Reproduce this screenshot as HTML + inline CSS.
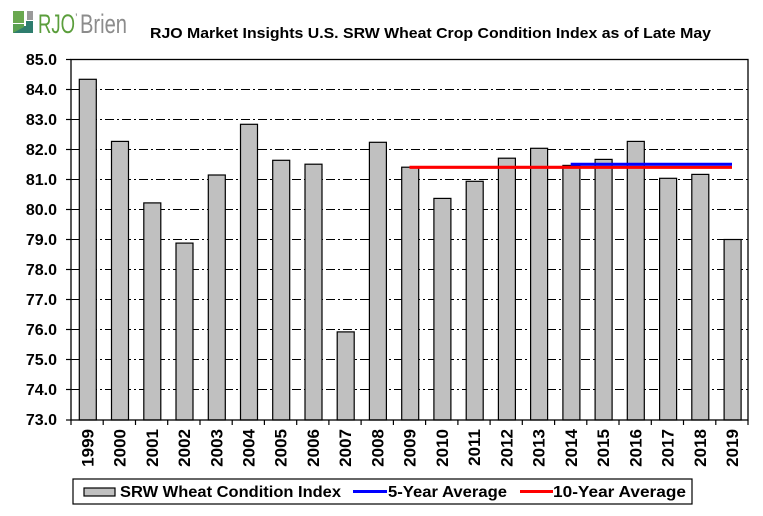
<!DOCTYPE html>
<html>
<head>
<meta charset="utf-8">
<style>
html,body{margin:0;padding:0;background:#fff;}
svg{display:block;}
text{font-family:"Liberation Sans",Arial,sans-serif;}
</style>
</head>
<body>
<svg width="763" height="516" viewBox="0 0 763 516" xmlns="http://www.w3.org/2000/svg">
<rect x="0" y="0" width="763" height="516" fill="#fff"/>

<!-- Logo -->
<g>
  <rect x="13" y="11" width="11" height="12" fill="#6aa84f"/>
  <rect x="27" y="11" width="6" height="9" fill="#9a9a9a"/>
  <polygon points="13,33 33,33 33,21 26,21 26,26 24,26 24,24 13,24" fill="#2e7d6e"/>
  <polygon points="13,33 13,24 24,24 24,27" fill="#5aa050"/>
  <text x="38" y="33" font-size="27" fill="#5b9e3c" textLength="37" lengthAdjust="spacingAndGlyphs">RJO</text>
  <text x="75" y="22" font-size="12" fill="#8c8c8c">’</text>
  <text x="80" y="33" font-size="27" fill="#8c8c8c" textLength="47" lengthAdjust="spacingAndGlyphs">Brien</text>
</g>

<!-- Title -->
<text x="150" y="38" font-size="15" font-weight="bold" fill="#000" textLength="561" lengthAdjust="spacingAndGlyphs">RJO Market Insights U.S. SRW Wheat Crop Condition Index as of Late May</text>

<!-- Gridlines -->
<g stroke="#000" stroke-width="1" stroke-dasharray="9 3 2 3" shape-rendering="crispEdges">
  <line x1="71" y1="89.5" x2="748" y2="89.5"/>
  <line x1="71" y1="119.5" x2="748" y2="119.5"/>
  <line x1="71" y1="149.5" x2="748" y2="149.5"/>
  <line x1="71" y1="179.5" x2="748" y2="179.5"/>
  <line x1="71" y1="209.5" x2="748" y2="209.5"/>
  <line x1="71" y1="239.5" x2="748" y2="239.5"/>
  <line x1="71" y1="269.5" x2="748" y2="269.5"/>
  <line x1="71" y1="299.5" x2="748" y2="299.5"/>
  <line x1="71" y1="329.5" x2="748" y2="329.5"/>
  <line x1="71" y1="359.5" x2="748" y2="359.5"/>
  <line x1="71" y1="389.5" x2="748" y2="389.5"/>
</g>

<!-- Bars -->
<g fill="#c0c0c0" stroke="#000" stroke-width="1.2">
  <rect x="79.3" y="79.3" width="17" height="340.7"/>
  <rect x="111.5" y="141.4" width="17" height="278.6"/>
  <rect x="143.8" y="202.9" width="17" height="217.1"/>
  <rect x="176.0" y="243.1" width="17" height="176.9"/>
  <rect x="208.3" y="175.0" width="17" height="245.0"/>
  <rect x="240.5" y="124.3" width="17" height="295.7"/>
  <rect x="272.7" y="160.3" width="17" height="259.7"/>
  <rect x="305.0" y="164.2" width="17" height="255.8"/>
  <rect x="337.2" y="331.9" width="17" height="88.1"/>
  <rect x="369.4" y="142.3" width="17" height="277.7"/>
  <rect x="401.7" y="167.2" width="17" height="252.8"/>
  <rect x="433.9" y="198.4" width="17" height="221.6"/>
  <rect x="466.2" y="181.3" width="17" height="238.7"/>
  <rect x="498.4" y="158.2" width="17" height="261.8"/>
  <rect x="530.6" y="148.3" width="17" height="271.7"/>
  <rect x="562.9" y="165.4" width="17" height="254.6"/>
  <rect x="595.1" y="159.4" width="17" height="260.6"/>
  <rect x="627.3" y="141.4" width="17" height="278.6"/>
  <rect x="659.6" y="178.3" width="17" height="241.7"/>
  <rect x="691.8" y="174.4" width="17" height="245.6"/>
  <rect x="724.1" y="239.5" width="17" height="180.5"/>
</g>

<!-- Average lines -->
<line x1="409.5" y1="167.3" x2="732" y2="167.3" stroke="#ff0000" stroke-width="3.2"/>
<line x1="570.7" y1="164.2" x2="732" y2="164.2" stroke="#0000ff" stroke-width="3"/>

<!-- Plot frame -->
<rect x="71" y="59.5" width="677" height="360.5" fill="none" stroke="#000" stroke-width="1.3"/>

<!-- Y ticks -->
<g stroke="#000" stroke-width="1.2">
  <line x1="66" y1="59.5" x2="71" y2="59.5"/>
  <line x1="66" y1="89.5" x2="71" y2="89.5"/>
  <line x1="66" y1="119.5" x2="71" y2="119.5"/>
  <line x1="66" y1="149.5" x2="71" y2="149.5"/>
  <line x1="66" y1="179.5" x2="71" y2="179.5"/>
  <line x1="66" y1="209.5" x2="71" y2="209.5"/>
  <line x1="66" y1="239.5" x2="71" y2="239.5"/>
  <line x1="66" y1="269.5" x2="71" y2="269.5"/>
  <line x1="66" y1="299.5" x2="71" y2="299.5"/>
  <line x1="66" y1="329.5" x2="71" y2="329.5"/>
  <line x1="66" y1="359.5" x2="71" y2="359.5"/>
  <line x1="66" y1="389.5" x2="71" y2="389.5"/>
  <line x1="66" y1="420" x2="71" y2="420"/>
</g>

<!-- X ticks -->
<g stroke="#000" stroke-width="1.2">
  <line x1="71" y1="420" x2="71" y2="425"/>
  <line x1="103.2" y1="420" x2="103.2" y2="425"/>
  <line x1="135.5" y1="420" x2="135.5" y2="425"/>
  <line x1="167.7" y1="420" x2="167.7" y2="425"/>
  <line x1="200.0" y1="420" x2="200.0" y2="425"/>
  <line x1="232.2" y1="420" x2="232.2" y2="425"/>
  <line x1="264.4" y1="420" x2="264.4" y2="425"/>
  <line x1="296.7" y1="420" x2="296.7" y2="425"/>
  <line x1="328.9" y1="420" x2="328.9" y2="425"/>
  <line x1="361.1" y1="420" x2="361.1" y2="425"/>
  <line x1="393.4" y1="420" x2="393.4" y2="425"/>
  <line x1="425.6" y1="420" x2="425.6" y2="425"/>
  <line x1="457.9" y1="420" x2="457.9" y2="425"/>
  <line x1="490.1" y1="420" x2="490.1" y2="425"/>
  <line x1="522.3" y1="420" x2="522.3" y2="425"/>
  <line x1="554.6" y1="420" x2="554.6" y2="425"/>
  <line x1="586.8" y1="420" x2="586.8" y2="425"/>
  <line x1="619.0" y1="420" x2="619.0" y2="425"/>
  <line x1="651.3" y1="420" x2="651.3" y2="425"/>
  <line x1="683.5" y1="420" x2="683.5" y2="425"/>
  <line x1="715.8" y1="420" x2="715.8" y2="425"/>
  <line x1="748" y1="420" x2="748" y2="425"/>
</g>

<!-- Y labels -->
<g font-size="16" font-weight="bold" fill="#000" text-anchor="end">
  <text x="57" y="65">85.0</text>
  <text x="57" y="95">84.0</text>
  <text x="57" y="125">83.0</text>
  <text x="57" y="155">82.0</text>
  <text x="57" y="185">81.0</text>
  <text x="57" y="215">80.0</text>
  <text x="57" y="245">79.0</text>
  <text x="57" y="275">78.0</text>
  <text x="57" y="305">77.0</text>
  <text x="57" y="335">76.0</text>
  <text x="57" y="365">75.0</text>
  <text x="57" y="395">74.0</text>
  <text x="57" y="425">73.0</text>
</g>

<!-- X labels -->
<g font-size="17" font-weight="bold" fill="#000" text-anchor="end">
  <text transform="translate(93.3,429) rotate(-90)">1999</text>
  <text transform="translate(125.5,429) rotate(-90)">2000</text>
  <text transform="translate(157.8,429) rotate(-90)">2001</text>
  <text transform="translate(190.0,429) rotate(-90)">2002</text>
  <text transform="translate(222.3,429) rotate(-90)">2003</text>
  <text transform="translate(254.5,429) rotate(-90)">2004</text>
  <text transform="translate(286.7,429) rotate(-90)">2005</text>
  <text transform="translate(319.0,429) rotate(-90)">2006</text>
  <text transform="translate(351.2,429) rotate(-90)">2007</text>
  <text transform="translate(383.4,429) rotate(-90)">2008</text>
  <text transform="translate(415.7,429) rotate(-90)">2009</text>
  <text transform="translate(447.9,429) rotate(-90)">2010</text>
  <text transform="translate(480.2,429) rotate(-90)">2011</text>
  <text transform="translate(512.4,429) rotate(-90)">2012</text>
  <text transform="translate(544.6,429) rotate(-90)">2013</text>
  <text transform="translate(576.9,429) rotate(-90)">2014</text>
  <text transform="translate(609.1,429) rotate(-90)">2015</text>
  <text transform="translate(641.3,429) rotate(-90)">2016</text>
  <text transform="translate(673.6,429) rotate(-90)">2017</text>
  <text transform="translate(705.8,429) rotate(-90)">2018</text>
  <text transform="translate(738.1,429) rotate(-90)">2019</text>
</g>

<!-- Legend -->
<rect x="73" y="479" width="619" height="25" fill="#fff" stroke="#000" stroke-width="1.2"/>
<rect x="84" y="488" width="31" height="8" fill="#c0c0c0" stroke="#000" stroke-width="1.2"/>
<g font-size="16" font-weight="bold" fill="#000">
  <text x="120" y="497" textLength="221" lengthAdjust="spacingAndGlyphs">SRW Wheat Condition Index</text>
  <text x="388" y="497" textLength="119" lengthAdjust="spacingAndGlyphs">5-Year Average</text>
  <text x="553" y="497" textLength="133" lengthAdjust="spacingAndGlyphs">10-Year Average</text>
</g>
<line x1="353" y1="491.5" x2="387" y2="491.5" stroke="#0000ff" stroke-width="3"/>
<line x1="520" y1="491.5" x2="553" y2="491.5" stroke="#ff0000" stroke-width="3"/>
</svg>
</body>
</html>
